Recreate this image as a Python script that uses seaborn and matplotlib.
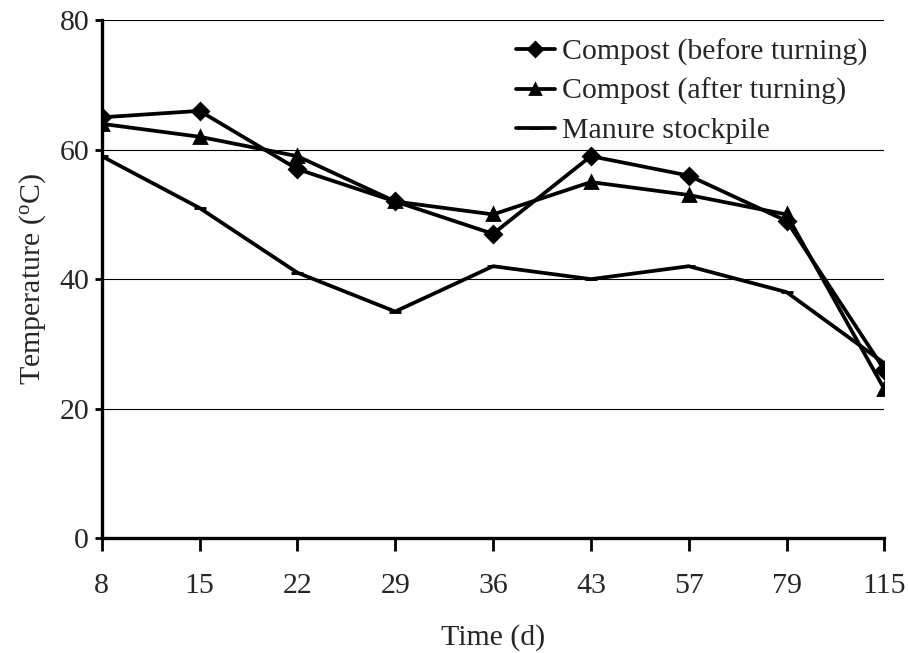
import numpy as np
import pandas as pd
import matplotlib
matplotlib.use("Agg")
import matplotlib.pyplot as plt
import seaborn as sns

# Sampling days (plotted as evenly spaced categories)
days = ["8", "15", "22", "29", "36", "43", "57", "79", "115"]

# Temperatures (°C)
compost_before = [65, 66, 57, 52, 47, 59, 56, 49, 26]
compost_after = [64, 62, 59, 52, 50, 55, 53, 50, 23]
manure_stockpile = [59, 51, 41, 35, 42, 40, 42, 38, 27]

series_names = ["Compost (before turning)", "Compost (after turning)", "Manure stockpile"]
y_ticks = [0, 20, 40, 60, 80]

df = pd.concat([
    pd.DataFrame({"day": days, "temp": compost_before, "series": series_names[0]}),
    pd.DataFrame({"day": days, "temp": compost_after, "series": series_names[1]}),
    pd.DataFrame({"day": days, "temp": manure_stockpile, "series": series_names[2]}),
])

sns.set_theme(style="white")
plt.rcParams["font.family"] = ["Liberation Serif", "DejaVu Serif"]
plt.rcParams["mathtext.fontset"] = "custom"
plt.rcParams["mathtext.rm"] = "Liberation Serif"
plt.rcParams["mathtext.it"] = "Liberation Serif:italic"

fig = plt.figure(figsize=(9.08, 6.53), dpi=100)
ax = fig.add_axes([0.112, 0.176, 0.862, 0.793])

sns.pointplot(
    data=df, x="day", y="temp", hue="series",
    order=days, hue_order=series_names,
    palette=["black", "black", "black"],
    markers=["D", "^", "_"], linestyles=["-", "-", "-"],
    markersize=8.5, linewidth=2.7, errorbar=None, ax=ax,
)

ax.set_xlim(0, len(days) - 1)
ax.set_ylim(0, 80)
ax.set_yticks(y_ticks)
ax.yaxis.grid(True, color="black", linewidth=0.8)
ax.xaxis.grid(False)
ax.set_axisbelow(True)

for side in ["top", "right"]:
    ax.spines[side].set_visible(False)
for side in ["left", "bottom"]:
    ax.spines[side].set_color("black")
    ax.spines[side].set_linewidth(2.4)

ax.tick_params(axis="x", direction="out", length=9, width=2, color="black",
               labelsize=21.5, pad=16, bottom=True)
ax.tick_params(axis="y", direction="out", length=5, width=2, color="black",
               labelsize=21.5, pad=4, left=True)

ax.set_xlabel("Time (d)", fontsize=21.5, labelpad=18)
ax.set_ylabel(r"Temperature ($^{\mathrm{o}}$C)", fontsize=21.5, labelpad=8)

handles, labels = ax.get_legend_handles_labels()
for h in handles:
    h.set_markersize(7)
ax.legend(handles, labels, loc="upper right", bbox_to_anchor=(0.994, 0.987),
          frameon=False, fontsize=21.5, handlelength=1.3, handletextpad=0.25,
          labelspacing=0.4, borderaxespad=0.0)

fig.savefig("out.png", dpi=100)
